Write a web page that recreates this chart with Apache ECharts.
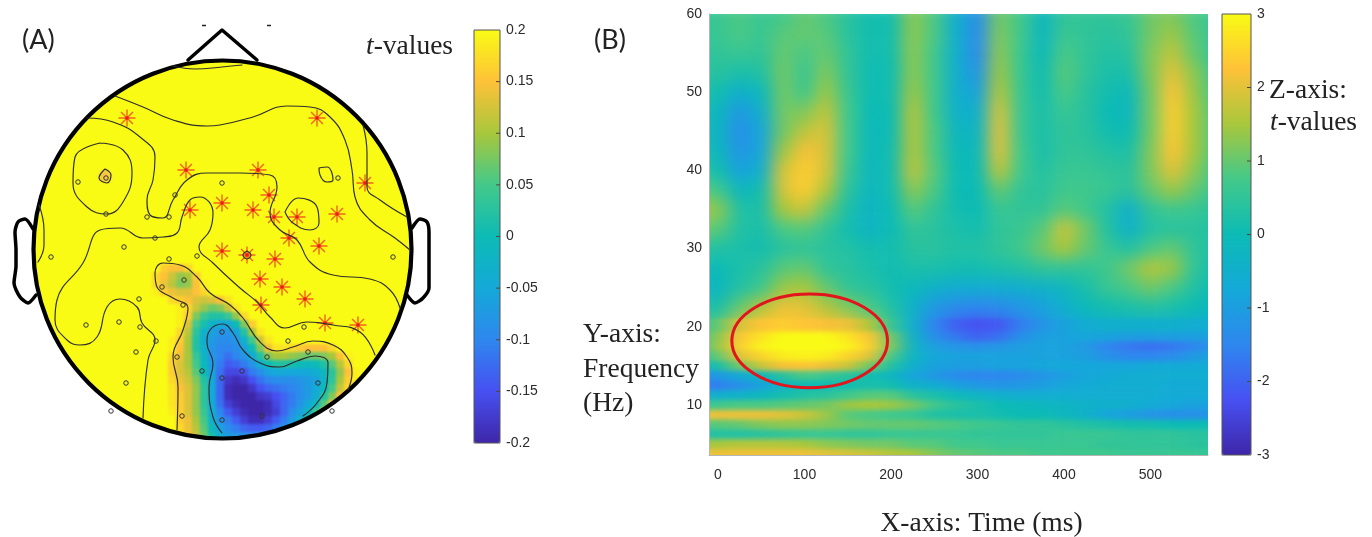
<!DOCTYPE html>
<html><head><meta charset="utf-8">
<style>html,body{margin:0;background:#fff}#c{width:1372px;height:537px}</style>
<script src="https://cdn.jsdelivr.net/npm/echarts@6/dist/echarts.min.js"></script>
</head><body>
<svg width="0" height="0" style="position:absolute"><defs>
<filter id="softA" x="0" y="0" width="100%" height="100%" color-interpolation-filters="sRGB"><feGaussianBlur stdDeviation="1.4"/></filter>
<filter id="softB" x="0" y="0" width="100%" height="100%" color-interpolation-filters="sRGB"><feGaussianBlur stdDeviation="8.5 7.5"/></filter>
<filter id="softC" x="0" y="0" width="100%" height="100%" color-interpolation-filters="sRGB"><feGaussianBlur stdDeviation="8.5 2.4"/></filter>
</defs></svg>
<div id="c"></div>
<script>
const parula=['#3e26a8','#4750f2','#2e87ef','#14a9d8','#0cbbb5','#43c98a','#a8c73c','#fec138','#f9fb15'];
// ---------- Panel B: time-frequency t-values ----------
const timesMs=[-25,0,25,50,75,100,125,150,175,200,225,250,275,300,325,350,375,400,425,450,475,500,525,550,575];
const freqsHz=[60,57.5,55,52.5,50,47.5,45,42.5,40,37.5,35,32.5,30,27.5,25,22.5,20,18.75,17.5,16.25,15,13.75,12.5,11.25,10,8.75,7.5,6.25,5,3.75];
const tfValues=[
[.5,.6,.8,.6,.7,1.0,.8,.4,.1,.1,1.3,.8,-.5,-1.3,1.1,.7,-.2,.5,.5,.5,.6,1.1,1.2,.8,.6],
[.5,.6,.8,.6,.9,1.0,.9,.4,.1,.1,1.3,.8,-.5,-1.4,1.2,.7,-.2,.6,.5,.4,.5,1.1,1.4,.9,.5],
[.4,.5,.6,.5,1.0,.8,1.0,.5,.1,.1,1.3,.7,-.5,-1.4,1.3,.6,-.1,.8,.5,.3,.4,1.2,1.7,1.0,.5],
[.3,.4,.2,.3,1.1,.6,1.2,.5,.05,.05,1.3,.7,-.5,-1.2,1.4,.6,.05,.9,.5,.2,.2,1.2,2.0,1.3,.6],
[.2,.1,-.5,-.1,1.1,.7,1.4,.6,.05,.05,1.4,.7,-.5,-.9,1.6,.6,.1,.8,.4,.1,-.1,1.1,2.3,1.4,.7],
[.1,-.2,-1.1,-.5,1.1,1.2,1.7,.7,0,0,1.6,.7,-.4,-.5,1.9,.6,.2,.6,.4,0,-.2,1.1,2.4,1.5,.8],
[.1,-.3,-1.3,-.8,1.1,1.7,1.9,.7,-.1,0,1.6,.8,-.2,-.3,2.0,.6,.2,.5,.4,.1,0,1.1,2.4,1.5,.8],
[.2,-.2,-1.2,-.8,1.4,2.2,1.9,.7,-.1,.05,1.6,.8,-.1,-.1,2.0,.7,.2,.5,.5,.3,.2,1.2,2.3,1.5,.8],
[.4,.1,-.9,-.5,1.9,2.4,1.9,.6,-.15,.05,1.7,.9,0,-.05,1.7,.7,.3,.6,.6,.5,.4,1.2,2.0,1.3,.7],
[1.0,.7,-.2,.1,1.9,2.4,1.6,.4,-.2,.05,1.3,.8,0,0,1.0,.5,.4,.7,.7,.6,.4,1.0,1.4,1.0,.6],
[1.5,1.3,.3,.2,1.5,1.8,1.0,.2,-.3,0,.9,.5,.1,0,.6,.5,.5,.9,.7,.3,-.5,.5,.7,.6,.4],
[1.1,.9,.3,.2,.8,.9,.5,.1,-.3,0,.5,.4,.2,.1,.5,.6,.9,1.8,1.1,.3,-.4,.3,.4,.4,.3],
[.4,.3,.2,.1,.4,.5,.4,.3,.1,.1,.4,.4,.3,.3,.5,.7,1.1,1.5,1.0,.6,.3,.8,1.0,.5,.2],
[-.2,0,.2,.4,.9,1.0,.5,.4,.2,.05,.2,.2,.1,.1,.2,.3,.5,.5,.5,.7,1.1,1.6,1.4,.5,.1],
[-.3,-.2,.3,.7,1.4,1.5,1.0,.5,.4,.1,-.1,-.4,-.6,-.6,-.6,-.5,-.4,-.2,.2,.6,.8,1.1,.8,.3,0],
[.2,.2,1.0,1.6,2.1,2.0,1.6,1.2,.8,.3,-.4,-1.1,-1.4,-1.5,-1.4,-1.2,-.9,-.5,-.1,.1,.2,.3,.2,0,-.2],
[.4,1.0,1.9,2.3,2.4,2.3,2.2,2.1,1.6,.6,-.5,-1.5,-2.0,-2.2,-2.1,-1.6,-1.2,-.9,-.6,-.5,-.5,-.5,-.5,-.6,-.6],
[.5,1.3,2.3,2.7,3,3,3,2.7,2.3,1.1,-.4,-1.3,-1.7,-2.0,-1.8,-1.3,-1.0,-.9,-.8,-.9,-1.0,-1.0,-1.0,-1.0,-.9],
[.5,1.4,2.4,2.9,3,3,3,2.9,2.4,1.2,-.3,-1.0,-1.2,-1.3,-1.2,-1.0,-.9,-.9,-1.1,-1.5,-1.7,-1.8,-1.7,-1.5,-1.2],
[.3,1.0,2.0,2.5,2.8,2.9,2.8,2.5,2.0,.8,-.3,-.8,-.9,-.9,-.9,-.9,-.9,-.9,-1.0,-1.3,-1.5,-1.5,-1.4,-1.1,-.9],
[-.3,.2,1.1,1.8,2.2,2.3,2.1,1.8,1.1,.3,-.5,-.9,-1.0,-1.0,-.9,-.9,-.8,-.8,-.8,-.8,-.8,-.7,-.7,-.7,-.7],
[-1.3,-1.1,-.7,-.2,.4,.8,.6,.4,.1,-.2,-.8,-1.1,-1.4,-1.5,-1.5,-1.4,-1.2,-1.0,-.8,-.7,-.6,-.6,-.6,-.6,-.6],
[-1.7,-1.6,-1.3,-.9,-.3,0,0,.1,.2,.1,-.4,-.6,-.9,-1.1,-1.2,-1.1,-1.0,-.8,-.7,-.6,-.6,-.6,-.7,-.7,-.7],
[-.5,-.5,-.4,-.2,.1,.3,.4,.7,.9,.9,.4,.2,-.1,-.3,-.5,-.6,-.6,-.6,-.6,-.6,-.6,-.6,-.7,-.7,-.7],
[.6,.7,.8,.8,.9,1.0,1.1,1.4,1.5,1.4,1.1,.7,.4,.2,0,-.1,-.2,-.3,-.4,-.5,-.5,-.7,-.8,-.9,-.9],
[2.1,2.1,2.1,2.1,2.0,1.8,1.4,.9,.8,.7,.6,.3,.2,.2,.1,0,0,-.2,-.4,-.8,-1.0,-1.2,-1.3,-1.3,-1.2],
[.8,.9,1.0,1.2,1.3,1.3,1.2,1.1,1.0,1.0,1.0,.9,.8,.7,.6,.5,.5,.4,.3,.2,.1,.1,0,0,0],
[.2,.3,.3,.4,.5,.6,.6,.5,.5,.6,.6,.6,.6,.5,.5,.5,.5,.6,.6,.6,.5,.5,.5,.4,.4],
[1.4,1.5,1.6,1.6,1.6,1.5,1.3,1.2,1.1,1.1,.9,.9,.7,.7,.6,.6,.6,.6,.6,.5,.5,.5,.5,.4,.4],
[2.1,2.1,2.1,2.1,2.1,2.1,2.0,1.9,1.8,1.6,1.5,1.2,1.0,.9,.8,.8,.7,.7,.7,.7,.6,.6,.6,.6,.5]
];
const timeTicks=[0,100,200,300,400,500];
const freqTicks=[10,20,30,40,50,60];
const tfBarTicks=[-3,-2,-1,0,1,2,3];
const markedEllipse=[106,18.2,90,6]; // centre ms, centre Hz, radius ms, radius Hz

// ---------- Panel A: scalp map (head-plane units) ----------
const Y=.2;
const mapX=[156,164,172,180,188,196,204,212,220,228,236,244,252,260,268,276,284,292,300,308,316,324,332,340,348,356];
const mapY=[268,276,284,292,300,308,316,324,332,340,348,356,364,372,380,388,396,404,412,420,428,436];
const mapValues=[
[Y,.16,.15,.15,.17],
[.17,.15,.12,.09,.1,.16],
[.17,.14,.11,.08,.09,.15,.19],
[.19,.16,.14,.13,.13,.15,.17],
[Y,Y,.17,.16,.15,.13,.12,.13,.15,.18],
[Y,Y,Y,.19,.17,.12,.09,.07,.08,.12,.18],
[Y,Y,Y,.19,.16,.08,.04,.02,.02,.04,.09,.17],
[Y,Y,Y,.19,.13,.05,.01,-.03,-.05,-.05,0,.08,.16],
[Y,Y,Y,.17,.11,.03,-.03,-.06,-.08,-.08,-.06,.02,.1,.18],
[Y,Y,.19,.16,.1,.02,-.04,-.07,-.09,-.09,-.08,-.03,.05,.12,.18],
[Y,Y,.19,.15,.1,.02,-.03,-.08,-.1,-.1,-.09,-.06,0,.08,.14,.18,.18,.17,.16,.15,.15,.15,.17],
[Y,Y,.17,.14,.1,.04,-.02,-.08,-.1,-.12,-.1,-.08,-.05,.02,.08,.1,.1,.09,.08,.07,.07,.08,.1,.15,.19],
[Y,Y,.16,.13,.1,.05,-.01,-.07,-.11,-.14,-.13,-.11,-.08,-.04,0,.02,.02,.01,0,-.01,0,.02,.06,.11,.17],
[Y,Y,.16,.13,.11,.06,0,-.06,-.12,-.16,-.16,-.15,-.11,-.09,-.06,-.05,-.05,-.05,-.05,-.05,-.04,-.01,.03,.09,.15,.19],
[Y,Y,.17,.14,.12,.08,.02,-.05,-.13,-.18,-.19,-.18,-.15,-.12,-.1,-.09,-.09,-.09,-.08,-.07,-.06,-.02,.03,.1,.16,.19],
[Y,Y,.18,.15,.13,.09,.03,-.05,-.13,-.19,-.2,-.2,-.18,-.15,-.13,-.12,-.11,-.1,-.09,-.07,-.05,-.01,.05,.12,.17],
[Y,Y,.18,.16,.13,.09,.03,-.05,-.13,-.19,-.2,-.2,-.2,-.18,-.17,-.15,-.13,-.11,-.09,-.07,-.04,.02,.08,.15],
[Y,Y,.18,.16,.13,.09,.03,-.05,-.12,-.17,-.19,-.2,-.2,-.2,-.19,-.16,-.13,-.11,-.08,-.05,-.01,.06,.14],
[Y,Y,.19,.16,.13,.09,.04,-.04,-.1,-.14,-.17,-.19,-.2,-.2,-.19,-.17,-.13,-.09,-.06,-.02,.04,.13],
[Y,Y,Y,.16,.14,.1,.05,-.03,-.08,-.11,-.14,-.17,-.19,-.19,-.17,-.14,-.11,-.07,-.03,.02,.1],
[Y,Y,Y,.17,.14,.11,.06,-.01,-.06,-.09,-.11,-.13,-.14,-.14,-.13,-.11,-.08,-.05,-.02,.05],
[Y,Y,Y,Y,.15,.12,.07,.01,-.04,-.07,-.08,-.09,-.1,-.1,-.1,-.09,-.07,-.05,0]
];
const mapBarTicks=[-.2,-.15,-.1,-.05,0,.05,.1,.15,.2];
const headCentre=[222.5,249.5];
const orangeSpot=[[105,176,.15]];
const nosePath=[[188,60],[222,30],[257,60]];
const earLeft=[[33,229],[25,219],[18,222],[15,232],[16,250],[16,266],[14,283],[20,297],[28,303],[36,295]];
const earRight=[[412,228],[420,219],[427,222],[429,232],[429,258],[429,288],[423,298],[415,303],[407,295]];
const topMarks=[[204,25.5],[269,25.5]];
const contours=[
[[173,66],[195,69],[222,67],[242,65]],
[[115,96],[143,107],[173,120],[207,126],[220,125],[253,117],[287,106],[310,107],[330,117],[345,140],[352,170],[355,197],[370,220],[395,238],[410,250]],
[[363,125],[367,153],[367,187],[380,200],[407,217]],
[[87,118],[113,122],[140,137],[155,157],[153,180],[147,200],[150,215],[163,218],[173,200],[187,180],[207,173],[240,173],[270,175],[277,187],[270,213],[280,230],[297,240],[310,262],[333,275],[370,279],[390,290],[400,308]],
[[100,143],[123,150],[132,173],[123,202],[107,214],[87,207],[73,183],[75,157],[100,143]],
[[105,169],[111,175],[107,183],[99,178],[105,169]],
[[143,418],[148,360],[155,340],[142,323],[137,307],[120,299],[107,307],[97,337],[80,345],[67,340],[55,320],[57,300],[83,263],[100,230],[120,228],[143,238],[163,237],[177,233],[182,217],[190,200],[200,197],[213,213],[210,230],[199,247],[213,263],[240,288],[257,302],[270,317],[285,328],[307,322],[333,325],[360,332],[375,355]],
[[39,205],[44,230],[44,245],[38,262]],
[[177,430],[178,387],[173,357],[183,330],[188,308],[173,298],[157,287],[155,273],[163,263],[180,265],[197,277],[210,293],[230,305],[243,318],[260,342],[277,351],[293,347],[313,341],[333,345],[347,357],[352,373],[348,390]],
[[222,433],[213,417],[209,387],[213,363],[207,343],[210,330],[223,324],[233,333],[243,350],[260,363],[280,367],[297,361],[315,356],[328,363],[327,383],[317,403],[303,416]],
[[319,168],[327,167],[333,180],[327,182],[320,175],[319,168]],
[[285,212],[298,198],[317,207],[319,223],[310,230],[293,223],[285,212]],
[[247,251],[251,255],[247,259],[243,255],[247,251]]
];
const sigSensors=[[127,118],[186,170],[222,203],[190,210],[317,118],[258,170],[269,195],[253,210],[274,217],[297,217],[337,214],[365,183],[289,238],[319,246],[222,251],[247,255],[275,259],[260,279],[282,287],[305,299],[261,305],[325,323],[358,325]];
const otherSensors=[[78,182],[106,178],[106,214],[147,217],[169,217],[175,195],[155,238],[222,183],[338,178],[124,247],[51,257],[169,259],[197,256],[184,280],[162,287],[139,299],[183,305],[86,325],[119,322],[140,327],[156,341],[136,352],[177,357],[202,371],[222,332],[222,378],[126,383],[182,416],[222,420],[111,411],[267,357],[308,352],[242,371],[318,383],[262,416],[332,411],[288,341],[304,327],[393,257]];

// ---------- build ----------
const TOP=5, LAYER_A=1, LAYER_B=2, LAYER_C=3;
const serif='"Liberation Serif",serif', sans='"Liberation Sans",Arial,sans-serif';
const mapCells=[]; mapValues.forEach((r,j)=>r.forEach((v,i)=>mapCells.push([mapX[i],mapY[j],v])));
const tfUpper=[], tfLower=[];
tfValues.forEach((r,j)=>{
  const f=freqsHz[j];
  const up=j?(freqsHz[j-1]+f)/2:f+1.25;
  const lo=j<freqsHz.length-1?(f+freqsHz[j+1])/2:f-1.75;
  r.forEach((v,i)=>{ if(f>=15) tfUpper.push([timesMs[i],up,lo,v]); if(f<=27.5) tfLower.push([timesMs[i],up,lo,v]); });
});
const headAxis={xAxisIndex:0,yAxisIndex:0};
function headLine(d,w,color,smooth){return {type:'line',...headAxis,data:d,symbol:'none',smooth:smooth,silent:true,zlevel:TOP,clip:false,lineStyle:{color:color,width:w,cap:'round',join:'round'}};}
const barAxis=(min,max,ticks,gi)=>({type:'value',gridIndex:gi,position:'right',min:min,max:max,z:3,zlevel:TOP,
  splitLine:{show:false},axisLine:{show:false},axisTick:{show:false},
  axisLabel:{show:true,margin:6,customValues:ticks,color:'#2b2b2b',fontFamily:sans,fontSize:14,formatter:v=>String(+v.toFixed(2))}});
const hidX=(gi,min,max)=>({type:'value',gridIndex:gi,show:false,min:min,max:max,zlevel:TOP});
const rectCell=(p,api)=>{const t=api.value(0),a=api.coord([t-12.5,api.value(1)]),b=api.coord([t+12.5,api.value(2)]);
  return {type:'rect',shape:{x:a[0],y:a[1],width:b[0]-a[0]+.5,height:b[1]-a[1]+.5},style:{fill:api.visual('color')}};};
const barTicks=(gi,ticks)=>({type:'scatter',xAxisIndex:gi,yAxisIndex:gi,data:ticks.slice(1,-1).map(v=>[1,v]),zlevel:TOP,z:6,silent:true,symbol:'rect',symbolSize:[4,1],symbolOffset:[-2,0],clip:false,itemStyle:{color:'#4a4a3a',opacity:1}});
const opt={
 animation:false,
 grid:[
  {left:0,top:0,width:440,height:480,zlevel:TOP,outerBoundsMode:'none'},
  {left:709,top:14,width:499,height:441,zlevel:TOP,outerBoundsMode:'none'},
  {left:474,top:30,width:26,height:413,show:true,borderColor:'#555',borderWidth:1,backgroundColor:'transparent',z:2,zlevel:TOP,outerBoundsMode:'none'},
  {left:1222,top:14,width:29,height:441,show:true,borderColor:'#555',borderWidth:1,backgroundColor:'transparent',z:2,zlevel:TOP,outerBoundsMode:'none'}
 ],
 xAxis:[
  hidX(0,0,440),
  {type:'value',gridIndex:1,min:-10.4,max:566.5,zlevel:TOP,splitLine:{show:false},
   axisLine:{onZero:false,lineStyle:{color:'#b5b5b5'}},axisTick:{show:false,customValues:timeTicks},
   axisLabel:{customValues:timeTicks,margin:13,color:'#2b2b2b',fontFamily:sans,fontSize:14},
   name:'X-axis: Time (ms)',nameLocation:'middle',nameGap:55,nameTextStyle:{fontFamily:serif,fontSize:27.5,color:'#222',padding:[0,0,0,46]}},
  hidX(2,0,1),hidX(3,0,1)
 ],
 yAxis:[
  {type:'value',gridIndex:0,show:false,min:0,max:480,inverse:true,zlevel:TOP},
  {type:'value',gridIndex:1,min:3.6,max:60,zlevel:TOP,splitLine:{show:false},
   axisLine:{onZero:false,lineStyle:{color:'#b5b5b5'}},axisTick:{show:false,customValues:freqTicks},
   axisLabel:{customValues:freqTicks,margin:7,color:'#2b2b2b',fontFamily:sans,fontSize:14}},
  barAxis(-.2,.2,mapBarTicks,2),
  barAxis(-3,3,tfBarTicks,3)
 ],
 visualMap:[
  {type:'continuous',seriesIndex:1,dimension:2,min:-.2,max:.2,left:474,top:30,itemWidth:26,itemHeight:413,padding:0,calculable:false,inRange:{color:parula},zlevel:TOP,z:1,hoverLink:false},
  {type:'continuous',seriesIndex:[2,3],dimension:3,min:-3,max:3,left:1222,top:14,itemWidth:29,itemHeight:441,padding:0,calculable:false,inRange:{color:parula},zlevel:TOP,z:1,hoverLink:false}
 ],
 series:[
  {type:'scatter',...headAxis,data:[headCentre],symbolSize:378,silent:true,itemStyle:{color:parula[8],opacity:1}},
  {type:'custom',...headAxis,data:mapCells,zlevel:LAYER_A,silent:true,clip:false,encode:{x:0,y:1},
   renderItem:(p,api)=>{const x=api.value(0),y=api.value(1),a=api.coord([x-4,y-4]),b=api.coord([x+4,y+4]);
     return {type:'rect',shape:{x:a[0],y:a[1],width:b[0]-a[0]+.5,height:b[1]-a[1]+.5},style:{fill:api.visual('color')}};}},
  {type:'custom',xAxisIndex:1,yAxisIndex:1,data:tfUpper,zlevel:LAYER_B,silent:true,clip:false,encode:{x:0,y:1},renderItem:rectCell},
  {type:'custom',xAxisIndex:1,yAxisIndex:1,data:tfLower,zlevel:LAYER_C,silent:true,clip:false,encode:{x:0,y:1},renderItem:rectCell},
  {type:'scatter',...headAxis,data:orangeSpot,zlevel:LAYER_A,symbol:'circle',symbolSize:12,silent:true,itemStyle:{color:'#f7c545',opacity:1}},
  ...contours.map(c=>headLine(c,1.15,'#2e2e2e',.45)),
  headLine(nosePath,3.5,'#000',false),
  headLine(earLeft,3.5,'#000',.25),
  headLine(earRight,3.5,'#000',.25),
  {type:'scatter',...headAxis,data:[headCentre],symbolSize:378,zlevel:TOP,silent:true,itemStyle:{color:'rgba(0,0,0,0)',borderColor:'#000',borderWidth:4.2,opacity:1}},
  {type:'scatter',...headAxis,data:topMarks,zlevel:TOP,silent:true,symbol:'rect',symbolSize:[4,1.5],itemStyle:{color:'#222',opacity:1}},
  {type:'scatter',...headAxis,data:otherSensors,zlevel:TOP,silent:true,symbol:'circle',symbolSize:4.5,itemStyle:{color:'rgba(0,0,0,0)',borderColor:'#333',borderWidth:1,opacity:1}},
  {type:'scatter',...headAxis,data:sigSensors,zlevel:TOP,silent:true,symbol:'path://M0,-8L0,8M-8,0L8,0M-5.6,-5.6L5.6,5.6M-5.6,5.6L5.6,-5.6',symbolSize:17,itemStyle:{color:'rgba(0,0,0,0)',borderColor:'#f2641e',borderWidth:1.4,opacity:1}},
  {type:'scatter',...headAxis,data:sigSensors,zlevel:TOP,silent:true,symbol:'circle',symbolSize:3.5,itemStyle:{color:'#ee1c1c',opacity:1}},
  barTicks(2,mapBarTicks),
  barTicks(3,tfBarTicks),
  {type:'custom',xAxisIndex:1,yAxisIndex:1,data:[markedEllipse],zlevel:TOP,silent:true,clip:false,encode:{x:0,y:1},
   renderItem:(p,api)=>{const c=api.coord([api.value(0),api.value(1)]),e=api.coord([api.value(0)+api.value(2),api.value(1)+api.value(3)]);
     return {type:'ellipse',shape:{cx:c[0],cy:c[1],rx:e[0]-c[0],ry:c[1]-e[1]},style:{fill:'none',stroke:'#e2141c',lineWidth:3}};}}
 ],
 graphic:[
  {type:'text',zlevel:TOP,left:22,top:27,style:{text:'(A)',font:'27px Lato,sans-serif',fill:'#222'}},
  {type:'text',zlevel:TOP,left:594,top:27,style:{text:'(B)',font:'27px Lato,sans-serif',fill:'#222'}},
  {type:'text',zlevel:TOP,left:366,top:33,style:{text:'{i|t}-values',font:'27.5px '+serif,fontFamily:serif,fontSize:27.5,fill:'#222',rich:{i:{fontStyle:'italic',fontFamily:serif,fontSize:27.5,fill:'#222'}}}},
  {type:'text',zlevel:TOP,left:583,top:318,style:{text:'Y-axis:\nFrequency\n(Hz)',font:'27.5px '+serif,lineHeight:34.5,fill:'#222'}},
  {type:'text',zlevel:TOP,left:1269,top:77,style:{text:'Z-axis:',font:'27.5px '+serif,fill:'#222'}},
  {type:'text',zlevel:TOP,left:1270,top:109,style:{text:'{i|t}-values',font:'27.5px '+serif,fontFamily:serif,fontSize:27.5,fill:'#222',rich:{i:{fontStyle:'italic',fontFamily:serif,fontSize:27.5,fill:'#222'}}}}
 ]
};
const chart=echarts.init(document.getElementById('c'),null,{renderer:'canvas'});
chart.setOption(opt);
function soften(){
  const q=l=>document.querySelector('canvas[data-zr-dom-id="zr_'+l+'"]');
  const a=q(LAYER_A), b=q(LAYER_B), c=q(LAYER_C);
  if(a){a.style.filter='url(#softA)';a.style.clipPath='circle(188px at 222.5px 249.5px)';}
  if(b){b.style.filter='url(#softB)';b.style.clipPath='polygon(709px 14px,1208px 14px,1208px 317px,709px 317px)';}
  if(c){c.style.filter='url(#softC)';c.style.clipPath='polygon(709px 317px,1208px 317px,1208px 455px,709px 455px)';}
}
soften();chart.on('finished',soften);
</script>
</body></html>
